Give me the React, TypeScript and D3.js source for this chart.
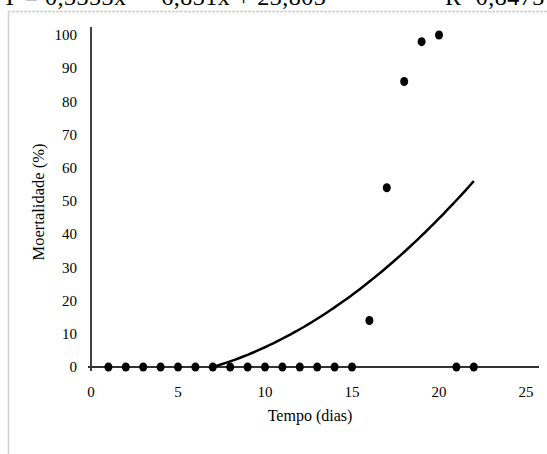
import React from "react";
import * as d3 from "d3";

// Mortality (%) observed per day
const days = [1, 2, 3, 4, 5, 6, 7, 8, 9, 10, 11, 12, 13, 14, 15, 16, 17, 18, 19, 20, 21, 22];
const mortality = [0, 0, 0, 0, 0, 0, 0, 0, 0, 0, 0, 0, 0, 0, 0, 14, 54, 86, 98, 100, 0, 0];

// Polynomial trend (a·x² + b·x + c) drawn over its day range
const trendCoef = [0.1458, -0.495, -3.68];
const trendRange = [7, 22];

const xTicks = [0, 5, 10, 15, 20, 25];
const yTicks = [0, 10, 20, 30, 40, 50, 60, 70, 80, 90, 100];

const equationText = "Y = 0,3353x² − 6,831x + 23,803";
const r2Text = "R² 0,8473";

const W = 547;
const H = 454;

export default function App() {
  const x = d3.scaleLinear().domain([0, 25]).range([91, 526]);
  const y = d3.scaleLinear().domain([0, 100]).range([367, 35]);

  const trendX = d3.range(trendRange[0], trendRange[1] + 0.001, 0.25);
  const trendFn = (t: number) => trendCoef[0] * t * t + trendCoef[1] * t + trendCoef[2];
  const trendPath = d3
    .line<number>()
    .x((t) => x(t))
    .y((t) => y(Math.max(0, trendFn(t))))
    .curve(d3.curveMonotoneX)(trendX);

  const font = "'Liberation Serif', 'Times New Roman', serif";

  return (
    <svg
      width={W}
      height={H}
      style={{ position: "absolute", left: 0, top: 0, background: "#fff" }}
      fontFamily={font}
    >
      {/* equation header, running past the top of the frame */}
      <text x={1} y={5} fontSize={24} fill="#000" letterSpacing={0.5}>
        {equationText}
      </text>
      <text x={445} y={5} fontSize={24} fill="#000" letterSpacing={0.5}>
        {r2Text}
      </text>

      {/* chart frame */}
      <line x1={8} y1={11.5} x2={W} y2={11.5} stroke="#cfcfcf" strokeWidth={1.5} strokeDasharray="3,1" />
      <line x1={8.5} y1={11} x2={8.5} y2={H} stroke="#d0d4d0" strokeWidth={1.5} />

      {/* y axis */}
      <line x1={x(0)} y1={27} x2={x(0)} y2={371} stroke="#000" strokeWidth={1.5} />
      {yTicks.map((t) => (
        <text key={t} x={77} y={y(t)} dy="0.35em" fontSize={15} textAnchor="end" fill="#000">
          {t}
        </text>
      ))}

      {/* x axis */}
      <line x1={88} y1={y(0)} x2={539} y2={y(0)} stroke="#333" strokeWidth={2} />
      {xTicks.map((t) => (
        <text key={t} x={x(t)} y={392} dy="0.35em" fontSize={15} textAnchor="middle" fill="#000">
          {t}
        </text>
      ))}

      {/* axis titles */}
      <text x={310} y={415} dy="0.35em" fontSize={16} textAnchor="middle" fill="#000">
        Tempo (dias)
      </text>
      <text
        transform={`translate(38,202) rotate(-90)`}
        dy="0.35em"
        fontSize={16.5}
        textAnchor="middle"
        fill="#000"
      >
        Moertalidade (%)
      </text>

      {/* trend curve */}
      <path d={trendPath ?? ""} fill="none" stroke="#000" strokeWidth={2.5} />

      {/* observed points */}
      {days.map((d, i) => (
        <ellipse key={d} cx={x(d)} cy={y(mortality[i])} rx={4} ry={4.5} fill="#000" />
      ))}
    </svg>
  );
}
